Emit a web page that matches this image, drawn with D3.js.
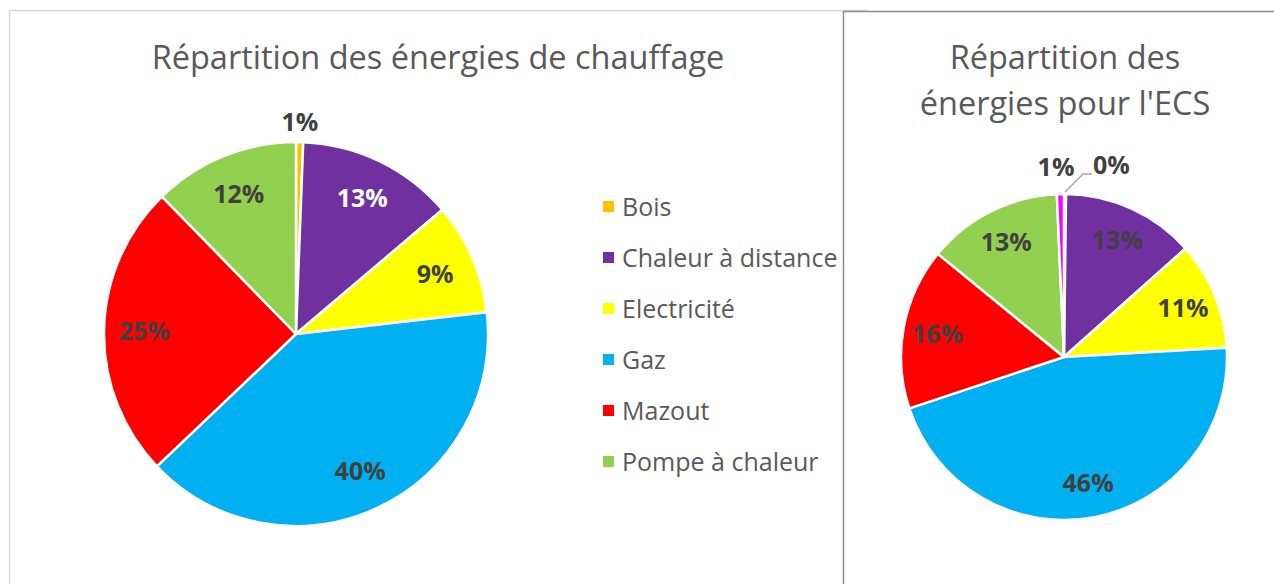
<!DOCTYPE html>
<html>
<head>
<meta charset="utf-8">
<script src="https://cdn.jsdelivr.net/npm/d3@7"></script>
<style>
body { margin: 0; background: #fff; }
text { font-family: "Open Sans", sans-serif; }
</style>
</head>
<body>
<svg id="chart" width="1274" height="584"></svg>
<script>
// categories + values
var categories = ["Bois", "Chaleur à distance", "Electricité", "Gaz", "Mazout", "Pompe à chaleur"]
var colors = ["#ffc000", "#7030a0", "#ffff00", "#00b0f0", "#ff0000", "#92d050"]

var chauffageValues = [0.6, 13.2, 9.4, 39.7, 24.8, 12.3]

// second pie has an extra (not in legend) magenta slice at the end
var ecsCategories = ["Bois", "Chaleur à distance", "Electricité", "Gaz", "Mazout", "Pompe à chaleur", "Autre"]
var ecsColors = ["#ffc000", "#7030a0", "#ffff00", "#00b0f0", "#ff0000", "#92d050", "#ff00ff"]
var ecsValues = [0.2, 13.2, 10.7, 45.8, 16.0, 13.4, 0.7]

var labelSize = 25

var svg = d3.select("#chart")

// panel frames
svg.append("rect")
.attr("x", 9.5).attr("y", 10.5)
.attr("width", 858).attr("height", 600)
.attr("fill", "#fff")
.attr("stroke", "#d9d9d9").attr("stroke-width", 1.5)

svg.append("rect")
.attr("x", 843.5).attr("y", 11.5)
.attr("width", 500).attr("height", 600)
.attr("fill", "#fff")
.attr("stroke", "#8c8c8c").attr("stroke-width", 1.5)

var pie = d3.pie().sort(null).value(function(d){ return d.v })

function drawPie(cx, cy, r, cats, vals, cols, labelR, whiteName){
var data = cats.map(function(c, i){ return {name: c, v: vals[i], color: cols[i]} })
var arcs = pie(data)
var arc = d3.arc().innerRadius(0).outerRadius(r)
var labelArc = d3.arc().innerRadius(labelR * r).outerRadius(labelR * r)

var g = svg.append("g").attr("transform", "translate(" + cx + "," + cy + ")")

g.selectAll("path")
.data(arcs)
.enter()
.append("path")
.attr("d", arc)
.attr("fill", function(d){ return d.data.color })
.attr("stroke", "#fff")
.attr("stroke-width", 2.5)
.attr("stroke-linejoin", "round")

// inside labels for the big slices
g.selectAll("text.lab")
.data(arcs.filter(function(d){ return d.data.v > 3 }))
.enter()
.append("text")
.attr("class", "lab")
.attr("transform", function(d){ return "translate(" + labelArc.centroid(d) + ")" })
.attr("text-anchor", "middle")
.attr("dy", "0.36em")
.attr("font-size", labelSize)
.attr("font-weight", "bold")
.attr("fill", function(d){ return d.data.name === whiteName ? "#ffffff" : "#404040" })
.text(function(d){ return Math.round(d.data.v) + "%" })

return {g: g, arcs: arcs, r: r}
}

// ---- left: chauffage ----
svg.append("text")
.attr("x", 438).attr("y", 69)
.attr("text-anchor", "middle")
.attr("font-size", 32.5)
.attr("fill", "#595959")
.text("Répartition des énergies de chauffage")

var left = drawPie(296, 334, 192, categories, chauffageValues, colors, 0.79, "Chaleur à distance")

// small Bois slice label sits above the pie
var boisL = left.arcs[0]
var outL = d3.arc().innerRadius(left.r + 14).outerRadius(left.r + 14)
left.g.append("text")
.attr("transform", "translate(" + outL.centroid(boisL) + ")")
.attr("text-anchor", "middle")
.attr("dy", "0.1em")
.attr("font-size", labelSize).attr("font-weight", "bold").attr("fill", "#404040")
.text(Math.round(boisL.data.v) + "%")

// legend
var legend = svg.append("g").attr("transform", "translate(603,207)")
var legItem = legend.selectAll("g")
.data(categories)
.enter()
.append("g")
.attr("transform", function(d, i){ return "translate(0," + (i * 51) + ")" })
legItem.append("rect")
.attr("x", 0).attr("y", -6)
.attr("width", 11).attr("height", 11)
.attr("fill", function(d, i){ return colors[i] })
legItem.append("text")
.attr("x", 19).attr("dy", "0.35em")
.attr("font-size", 25)
.attr("fill", "#595959")
.text(function(d){ return d })

// ---- right: ECS ----
var ecsTitle = svg.append("text")
.attr("text-anchor", "middle")
.attr("font-size", 32.5)
.attr("fill", "#595959")
ecsTitle.append("tspan").attr("x", 1065).attr("y", 69).text("Répartition des")
ecsTitle.append("tspan").attr("x", 1065).attr("y", 115).text("énergies pour l'ECS")

var right = drawPie(1064, 357, 163, ecsCategories, ecsValues, ecsColors, 0.79, "")

// outside labels: Autre (1%) left of the top, Bois (0%) with a leader line
var autre = right.arcs[6]
right.g.append("text")
.attr("x", -8).attr("y", -right.r - 27)
.attr("text-anchor", "middle")
.attr("dy", "0.36em")
.attr("font-size", labelSize).attr("font-weight", "bold").attr("fill", "#404040")
.text(Math.round(autre.data.v) + "%")

var boisR = right.arcs[0]
var edge = d3.arc().innerRadius(right.r + 2).outerRadius(right.r + 2).centroid(boisR)
right.g.append("polyline")
.attr("points", [[edge[0], edge[1]], [edge[0] + 18, edge[1] - 18], [edge[0] + 27, edge[1] - 18]].join(" "))
.attr("fill", "none")
.attr("stroke", "#a6a6a6").attr("stroke-width", 1.5)
right.g.append("text")
.attr("x", edge[0] + 28).attr("y", edge[1] - 27)
.attr("dy", "0.36em")
.attr("font-size", labelSize).attr("font-weight", "bold").attr("fill", "#404040")
.text(Math.round(boisR.data.v) + "%")
</script>
</body>
</html>
